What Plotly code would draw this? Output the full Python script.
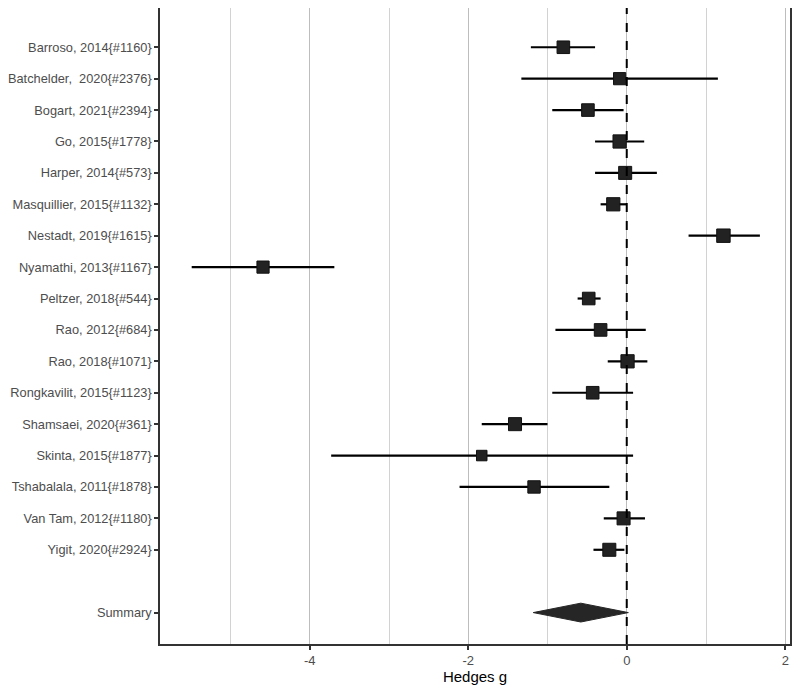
import plotly.graph_objects as go

# study-level effects (Hedges g) with 95% CI
studies = [
    "Barroso, 2014{#1160}", "Batchelder,  2020{#2376}", "Bogart, 2021{#2394}",
    "Go, 2015{#1778}", "Harper, 2014{#573}", "Masquillier, 2015{#1132}",
    "Nestadt, 2019{#1615}", "Nyamathi, 2013{#1167}", "Peltzer, 2018{#544}",
    "Rao, 2012{#684}", "Rao, 2018{#1071}", "Rongkavilit, 2015{#1123}",
    "Shamsaei, 2020{#361}", "Skinta, 2015{#1877}", "Tshabalala, 2011{#1878}",
    "Van Tam, 2012{#1180}", "Yigit, 2020{#2924}",
]
g     = [-0.80, -0.09, -0.49, -0.09, -0.02, -0.17, 1.22, -4.59, -0.48,
         -0.33, 0.01, -0.43, -1.41, -1.83, -1.17, -0.04, -0.22]
ci_lo = [-1.21, -1.33, -0.94, -0.40, -0.40, -0.33, 0.78, -5.49, -0.62,
         -0.90, -0.24, -0.94, -1.83, -3.73, -2.11, -0.29, -0.42]
ci_hi = [-0.40, 1.15, -0.04, 0.22, 0.38, 0.00, 1.68, -3.69, -0.33,
         0.24, 0.26, 0.08, -1.00, 0.08, -0.22, 0.23, -0.03]
weight = [6.0, 5.8, 6.0, 6.3, 6.2, 6.3, 6.4, 5.8, 6.0,
          6.0, 6.3, 6.0, 6.2, 5.0, 5.9, 6.2, 6.2]

summary_label = "Summary"
summary_g, summary_lo, summary_hi = -0.58, -1.18, 0.02

xticks = [-4, -2, 0, 2]

ypos = list(range(len(studies)))
y_sum = len(studies) + 1
half_h = 0.30  # diamond half height in row units

fig = go.Figure()

# reference line at zero
fig.add_shape(type="line", x0=0, x1=0, y0=0, y1=1, yref="paper",
              line=dict(color="black", width=2, dash="dash"), layer="above")

# confidence intervals
fig.add_trace(go.Scatter(
    x=g, y=ypos, mode="markers",
    marker=dict(size=1, color="rgba(0,0,0,0)"),
    error_x=dict(type="data", symmetric=False,
                 array=[h - m for h, m in zip(ci_hi, g)],
                 arrayminus=[m - l for m, l in zip(g, ci_lo)],
                 color="black", thickness=2.2, width=0),
    showlegend=False, hoverinfo="skip",
))

# point estimates, sized by weight
fig.add_trace(go.Scatter(
    x=g, y=ypos, mode="markers",
    marker=dict(symbol="square", size=[w * 2.1 for w in weight],
                color="#222222", opacity=1,
                line=dict(color="#111111", width=1)),
    showlegend=False, hoverinfo="skip",
))

# summary diamond
fig.add_trace(go.Scatter(
    x=[summary_lo, summary_g, summary_hi, summary_g, summary_lo],
    y=[y_sum, y_sum - half_h, y_sum, y_sum + half_h, y_sum],
    mode="lines", fill="toself", fillcolor="#262626",
    line=dict(color="#262626", width=1),
    showlegend=False, hoverinfo="skip",
))

# page body adds 8px around the figure, so size it to fit inside the window
fig.update_layout(
    width=784, height=677,
    margin=dict(l=152, r=2, t=0, b=41, autoexpand=False),
    paper_bgcolor="white", plot_bgcolor="white",
    font=dict(family="Liberation Sans, Arial, sans-serif", color="#4d4d4d"),
    xaxis=dict(
        range=[-5.89, 2.06], tickvals=xticks, ticktext=[str(t) for t in xticks],
        showgrid=True, gridcolor="#bdbdbd", gridwidth=1.4,
        minor=dict(tickmode="linear", tick0=-5, dtick=2, showgrid=True,
                   gridcolor="#d2d2d2", gridwidth=1, ticks=""),
        zeroline=False, automargin=False, ticklabeloverflow="allow",
        showline=True, linecolor="#333333", linewidth=1.5, mirror=True,
        ticks="outside", ticklen=4, tickcolor="#333333", tickwidth=1.5,
        tickfont=dict(size=13, color="#4d4d4d"),
        title=dict(text="Hedges g", font=dict(size=15, color="black"), standoff=4),
    ),
    yaxis=dict(
        range=[19.0, -1.25],
        tickvals=ypos + [y_sum], ticktext=studies + [summary_label],
        showgrid=False, zeroline=False, automargin=False,
        showline=True, linecolor="#333333", linewidth=1.5, mirror=True,
        ticks="outside", ticklen=4, tickcolor="#333333", tickwidth=1.5,
        tickfont=dict(size=12.8, color="#4d4d4d"),
    ),
)

fig.write_html("out.html")
